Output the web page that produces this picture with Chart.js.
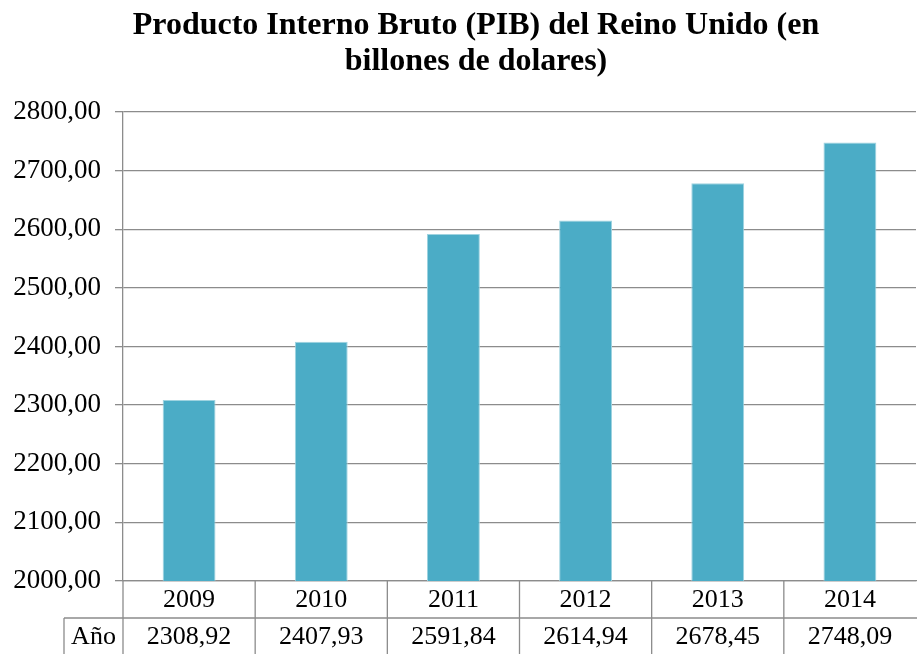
<!DOCTYPE html>
<html>
<head>
<meta charset="utf-8">
<script src="https://cdn.jsdelivr.net/npm/chart.js@4/dist/chart.umd.min.js"></script>
<style>
  html, body { margin: 0; padding: 0; background: #fff; }
  #wrap { width: 917px; height: 654px; }
</style>
</head>
<body>
<div id="wrap"><canvas id="pibChart"></canvas></div>
<script>
const years = ['2009', '2010', '2011', '2012', '2013', '2014'];
const pib = [2308.92, 2407.93, 2591.84, 2614.94, 2678.45, 2748.09];
const titleLines = ['Producto Interno Bruto (PIB) del Reino Unido (en', 'billones de dolares)'];
const rowLabel = 'Año';

const serif = '"Liberation Serif", "Times New Roman", serif';
const lineColor = '#8c8c8c';

function fmt(v) {
    return v.toFixed(2).replace('.', ',');
}

// title sits a bit right of centre in the original, so it is drawn here
const titlePlugin = {
    id: 'offTitle',
    afterDraw(chart) {
        const ctx = chart.ctx;
        ctx.save();
        ctx.fillStyle = '#000';
        ctx.font = 'bold 32px ' + serif;
        ctx.textAlign = 'center';
        ctx.textBaseline = 'alphabetic';
        ctx.fillText(titleLines[0], 476, 34);
        ctx.fillText(titleLines[1], 476, 70);
        ctx.restore();
    }
};

// draws the data table under the plot
const tablePlugin = {
    id: 'dataTable',
    afterDraw(chart) {
        const ctx = chart.ctx;
        const x = chart.scales.x;
        const area = chart.chartArea;
        const rowH = 37;
        const colW = (x.right - x.left) / years.length;
        const y0 = area.bottom;
        const y1 = y0 + rowH;
        const y2 = y1 + rowH;

        ctx.save();
        ctx.strokeStyle = lineColor;
        ctx.lineWidth = 1.3;
        ctx.beginPath();
        ctx.moveTo(64, y1);
        ctx.lineTo(chart.width, y1);
        ctx.moveTo(64, y1);
        ctx.lineTo(64, y2);
        for (let i = 0; i < years.length; i++) {
            const bx = x.left + i * colW;
            ctx.moveTo(bx, y0);
            ctx.lineTo(bx, y2);
        }
        ctx.stroke();

        ctx.fillStyle = '#000';
        ctx.font = '26px ' + serif;
        ctx.textAlign = 'center';
        ctx.textBaseline = 'middle';
        years.forEach((yr, i) => {
            const cx = x.getPixelForValue(i);
            ctx.fillText(yr, cx, y0 + rowH / 2 + 1);
            ctx.fillText(fmt(pib[i]), cx, y1 + rowH / 2 + 1);
        });
        ctx.fillText(rowLabel, (64 + x.left) / 2, y1 + rowH / 2 + 1);
        ctx.restore();
    }
};

const ctx = document.getElementById('pibChart').getContext('2d');
new Chart(ctx, {
    type: 'bar',
    data: {
        labels: years,
        datasets: [{
            label: 'PIB',
            data: pib,
            backgroundColor: '#4bacc6',
            borderColor: '#9fd3e0',
            borderWidth: 1,
            barPercentage: 0.4,
            categoryPercentage: 1
        }]
    },
    options: {
        responsive: true,
        maintainAspectRatio: false,
        animation: false,
        layout: {
            padding: { left: 0, right: 1, top: 112, bottom: 65 }
        },
        plugins: {
            legend: { display: false },
            tooltip: { enabled: false },
            title: { display: false }
        },
        scales: {
            x: {
                ticks: { display: false },
                grid: { display: false },
                border: { display: true, color: lineColor, width: 1.3 }
            },
            y: {
                min: 2000,
                max: 2800,
                ticks: {
                    stepSize: 100,
                    color: '#000',
                    padding: 14,
                    font: { family: serif, size: 27 },
                    callback: (v) => fmt(v)
                },
                grid: { color: lineColor, lineWidth: 1.3, tickLength: 8 },
                border: { color: lineColor, width: 1.3 },
                afterFit(scale) { scale.width = 123; }
            }
        }
    },
    plugins: [titlePlugin, tablePlugin]
});
</script>
</body>
</html>
